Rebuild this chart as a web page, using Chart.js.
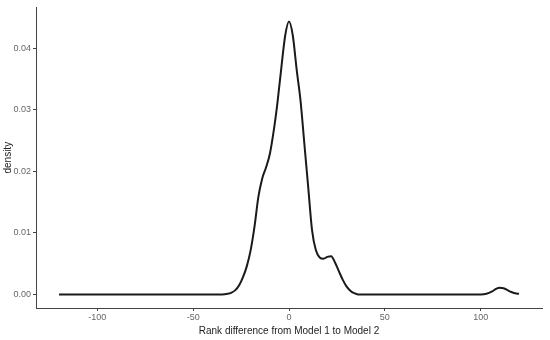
<!DOCTYPE html>
<html lang="en">
<head>
  <meta charset="UTF-8">
  <title>Rank difference density</title>
  <style>
    html, body {
      margin: 0;
      padding: 0;
      background: #fff;
    }
    #wrap {
      width: 550px;
      height: 340px;
    }
  </style>
</head>
<body>
  <div id="wrap"><canvas id="grafico"></canvas></div>

  <script src="https://cdn.jsdelivr.net/npm/chart.js"></script>
  <script>
  // Rank difference (x) and estimated density (y)
  const rankDiff = [-120, -100, -80, -60, -40, -35, -32, -30, -28, -26, -24, -22, -20, -18, -16, -14, -12, -10,
    -8, -6, -4, -2, 0, 2, 4, 6, 8, 10, 12, 14, 16, 18, 20, 22, 24, 26, 28, 30, 32, 34, 36, 40,
    60, 80, 100, 103, 106, 108, 110, 112, 114, 116, 118, 120];
  const density = [0, 0, 0, 0, 0, 0, 0.0001, 0.0003, 0.0007, 0.0015, 0.0028, 0.0046, 0.0072, 0.0110, 0.0158, 0.0188, 0.0206, 0.0228,
    0.0265, 0.0312, 0.0368, 0.0420, 0.0443, 0.0420, 0.0365, 0.0315, 0.0245, 0.0175, 0.0105, 0.0072, 0.0060, 0.0058, 0.0061, 0.0062, 0.0052, 0.0038, 0.0024, 0.0013, 0.0006, 0.0002, 0, 0,
    0, 0, 0, 0.0001, 0.0005, 0.0009, 0.0011, 0.0010, 0.0007, 0.0004, 0.0002, 0.0001];

  const xTicks = [-100, -50, 0, 50, 100];
  const yTicks = [0, 0.01, 0.02, 0.03, 0.04];

  const axisColor = '#444';
  const tickColor = '#666';

  const points = rankDiff.map((x, i) => ({ x: x, y: density[i] }));

  const ctx = document.getElementById('grafico').getContext('2d');
  new Chart(ctx, {
    type: 'line',
    data: {
      datasets: [{
        data: points,
        borderColor: '#1a1a1a',
        borderWidth: 2,
        pointRadius: 0,
        fill: false,
        cubicInterpolationMode: 'monotone'
      }]
    },
    options: {
      responsive: true,
      maintainAspectRatio: false,
      animation: false,
      layout: { padding: { top: 3, right: 8, left: 0, bottom: 0 } },
      plugins: {
        legend: { display: false },
        tooltip: { enabled: false }
      },
      scales: {
        x: {
          type: 'linear',
          min: -132,
          max: 132,
          afterBuildTicks: (scale) => { scale.ticks = xTicks.map(v => ({ value: v })); },
          afterFit: (scale) => { scale.height = 32; },
          ticks: {
            color: tickColor,
            font: { family: 'Liberation Sans', size: 9 },
            padding: 1,
            maxRotation: 0
          },
          grid: { drawOnChartArea: false, drawTicks: true, tickLength: 3, color: axisColor },
          border: { display: true, color: axisColor, width: 1 },
          title: {
            display: true,
            text: 'Rank difference from Model 1 to Model 2',
            color: '#222',
            font: { family: 'Liberation Sans', size: 10 },
            padding: { top: 0, bottom: 3 }
          }
        },
        y: {
          type: 'linear',
          min: -0.0022,
          max: 0.0466,
          afterBuildTicks: (scale) => { scale.ticks = yTicks.map(v => ({ value: v })); },
          afterFit: (scale) => { scale.width = 36; },
          ticks: {
            color: tickColor,
            font: { family: 'Liberation Sans', size: 9 },
            padding: 2,
            callback: (v) => v.toFixed(2)
          },
          grid: { drawOnChartArea: false, drawTicks: true, tickLength: 3, color: axisColor },
          border: { display: true, color: axisColor, width: 1 },
          title: {
            display: true,
            text: 'density',
            color: '#222',
            font: { family: 'Liberation Sans', size: 10 },
            padding: { top: 2, bottom: 0 }
          }
        }
      }
    }
  });
  </script>
</body>
</html>
